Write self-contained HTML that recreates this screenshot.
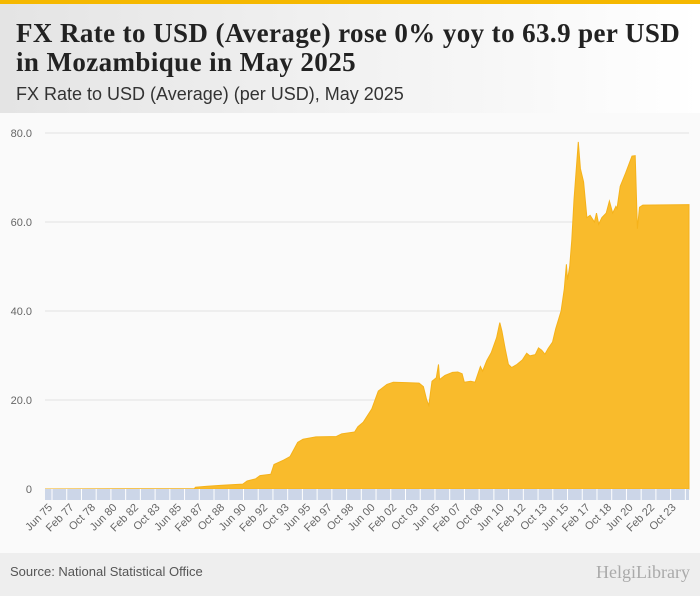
<!DOCTYPE html>
<html><head><meta charset="utf-8"><style>
body{margin:0;width:700px;height:596px;overflow:hidden;font-family:"Liberation Sans",sans-serif;background:#fafafa;position:relative}
#hdr{position:absolute;left:0;top:0;width:700px;height:113px;background:linear-gradient(90deg,#e4e4e4,#ffffff);border-top:4px solid #f5b800;box-sizing:border-box}
#t{position:absolute;left:16px;top:15px;font-family:"Liberation Serif",serif;font-weight:bold;font-size:27px;line-height:29px;color:#222;letter-spacing:0.4px}
#st{position:absolute;left:16px;top:80px;font-size:18px;color:#333}
#ftr{position:absolute;left:0;top:553px;width:700px;height:43px;background:#eeeeee}
#src{position:absolute;left:10px;top:11px;font-size:13px;color:#555}
#logo{position:absolute;right:10px;top:9px;font-size:18px;color:#aaa;font-family:"Liberation Serif",serif}
svg{position:absolute;left:0;top:113px}
</style></head><body>
<div id="hdr">
<div id="t">FX Rate to USD (Average) rose 0% yoy to 63.9 per USD<br>in Mozambique in May 2025</div>
<div id="st">FX Rate to USD (Average) (per USD), May 2025</div>
</div>
<svg id="c" width="700" height="440"></svg>
<div id="ftr">
<div id="src">Source: National Statistical Office</div>
<div id="logo">HelgiLibrary</div>
</div>
<script>
const dates=["1975-06","1987-01","1987-02","1988-01","1989-01","1990-01","1990-10","1991-02","1991-10","1992-02","1992-12","1993-03","1993-12","1994-06","1995-01","1995-06","1996-06","1998-01","1998-06","1999-06","1999-09","2000-02","2000-10","2001-04","2001-12","2002-06","2003-06","2004-06","2004-10","2005-01","2005-03","2005-06","2005-10","2005-12","2006-01","2006-06","2007-01","2007-06","2007-10","2007-12","2008-06","2008-10","2009-03","2009-05","2009-09","2010-01","2010-06","2010-09","2010-11","2011-02","2011-05","2011-08","2012-01","2012-06","2012-10","2013-01","2013-06","2013-09","2013-12","2014-03","2014-06","2014-10","2015-01","2015-06","2015-09","2015-11","2015-12","2016-02","2016-04","2016-06","2016-10","2016-12","2017-03","2017-06","2017-09","2018-01","2018-03","2018-05","2018-08","2018-12","2019-03","2019-06","2019-09","2019-10","2020-01","2020-06","2020-12","2021-03","2021-05","2021-07","2021-10","2025-05"];
const values=[0,0.1,0.4,0.6,0.8,1.0,1.1,1.8,2.3,3.0,3.3,5.5,6.5,7.3,10.5,11.2,11.7,11.8,12.4,12.8,14,15,18,22,23.5,24,23.9,23.8,23.0,20,18.8,24.2,25,28,24.6,25.5,26.2,26.3,25.9,24.0,24.2,24.0,27.5,26.5,28.9,30.6,34,37.4,35.5,31.5,28,27.3,28,29,30.5,29.9,30.2,31.7,31.2,30.3,31.6,33,36,40,45,50.5,47,50,56,65,78,72,69,61,61.5,60,62,59.5,61,62,64.7,62,63.5,63,68,71,74.8,74.9,58.5,63.3,63.8,63.9];
const yTicks=[0,20,40,60,80];
const yTickLabels=["0","20.0","40.0","60.0","80.0"];
const xTickLabels=["Jun 75","Feb 77","Oct 78","Jun 80","Feb 82","Oct 83","Jun 85","Feb 87","Oct 88","Jun 90","Feb 92","Oct 93","Jun 95","Feb 97","Oct 98","Jun 00","Feb 02","Oct 03","Jun 05","Feb 07","Oct 08","Jun 10","Feb 12","Oct 13","Jun 15","Feb 17","Oct 18","Jun 20","Feb 22","Oct 23"];
const NS="http://www.w3.org/2000/svg",svg=document.getElementById('c');
const X0=45,X1=689,Y0=376,Y80=20;
const mIdx=s=>{const[a,b]=s.split('-').map(Number);return (a-1975)*12+(b-6);};
const mMax=mIdx(dates[dates.length-1]);
const xs=m=>X0+(X1-X0)*m/mMax;
const ys=v=>Y0-(Y0-Y80)*v/80;
function mk(t,a){const e=document.createElementNS(NS,t);for(const k in a)e.setAttribute(k,a[k]);svg.appendChild(e);return e;}
yTicks.forEach((v,i)=>{
 if(v>0){const g=mk('line',{x1:X0,x2:X1,y1:ys(v),y2:ys(v),stroke:'#e2e2e2','stroke-width':1});
 
 }
 const t=mk('text',{x:32,y:ys(v)+4,'text-anchor':'end','font-size':11,fill:'#666'});t.textContent=yTickLabels[i];
 
 
});
let d='M'+xs(0)+','+Y0;
dates.forEach((s,i)=>{d+=' L'+xs(mIdx(s)).toFixed(1)+','+ys(values[i]).toFixed(1);});
d+=' L'+xs(mMax)+','+Y0+' Z';
const area=mk('path',{d:d,fill:'#f9bb2c',stroke:'#f5b21a','stroke-width':1});


const band=mk('rect',{x:X0,y:Y0,width:X1-X0,height:11,fill:'#ccd6e8'});


for(let m=0;m<=mMax;m+=13.7){const l=mk('line',{x1:xs(m)+7,x2:xs(m)+7,y1:Y0,y2:Y0+11,stroke:'#fff','stroke-width':1});
 
 }
xTickLabels.forEach((s,i)=>{const x=xs(i*20)+8,y=Y0+19;
 const t=mk('text',{x:x,y:y,'text-anchor':'end','font-size':11,fill:'#666',transform:`rotate(-45 ${x} ${y})`});t.textContent=s;
 
 });
</script>
</body></html>
